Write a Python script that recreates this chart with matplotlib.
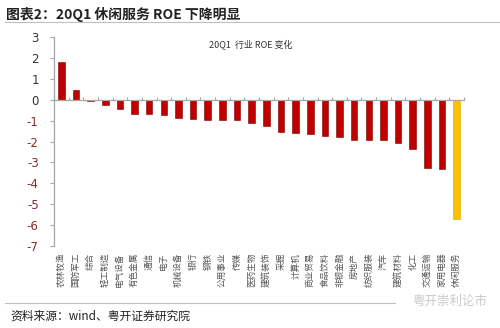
import matplotlib
matplotlib.use("Agg")
import matplotlib.pyplot as plt
import numpy as np

plt.rcParams['font.family'] = ['Noto Sans CJK SC', 'DejaVu Sans']

industries = ["农林牧渔", "国防军工", "综合", "轻工制造", "电气设备", "有色金属", "通信",
              "电子", "机械设备", "银行", "钢铁", "公用事业", "传媒", "医药生物",
              "建筑装饰", "采掘", "计算机", "商业贸易", "食品饮料", "非银金融", "房地产",
              "纺织服装", "汽车", "建筑材料", "化工", "交通运输", "家用电器", "休闲服务"]
roe_change = [1.82, 0.46, -0.05, -0.27, -0.43, -0.69, -0.67, -0.75, -0.88, -0.94,
              -0.96, -0.99, -0.98, -1.09, -1.28, -1.55, -1.57, -1.65, -1.74, -1.78,
              -1.92, -1.95, -1.95, -2.06, -2.38, -3.26, -3.30, -5.70]
highlight = "休闲服务"
yticks = [3, 2, 1, 0, -1, -2, -3, -4, -5, -6, -7]

RED, GOLD, GREY = "#C00000", "#FFC000", "#A6A6A6"

fig = plt.figure(figsize=(5, 3.28), dpi=100)
ax = fig.add_axes([0.108, 0.25, 0.82, 0.637])

x = np.arange(len(industries))
colors = [GOLD if n == highlight else RED for n in industries]
edges = ["#D9A400" if n == highlight else "#7A0000" for n in industries]
ax.bar(x, roe_change, width=0.45, color=colors, edgecolor=edges, linewidth=0.4, zorder=2)

ax.set_xlim(-0.5, len(industries) - 0.5)
ax.set_ylim(-7, 3)
ax.set_yticks(yticks)
ax.set_yticklabels([str(v) for v in yticks], fontsize=8.5, family="DejaVu Sans")
for lab, v in zip(ax.get_yticklabels(), yticks):
    lab.set_color("#8C2A2A" if v < 0 else "#333333")
ax.tick_params(axis="y", length=3, color=GREY, width=0.8, pad=8)

for s in ["top", "right"]:
    ax.spines[s].set_visible(False)
ax.spines["left"].set_color(GREY)
ax.spines["left"].set_linewidth(0.9)

# zero line with category-boundary ticks
ax.spines["bottom"].set_position(("data", 0))
ax.spines["bottom"].set_color(GREY)
ax.spines["bottom"].set_linewidth(0.9)
ax.set_xticks(x)
ax.set_xticklabels([])
ax.tick_params(axis="x", which="major", length=0)
ax.set_xticks(np.arange(len(industries) + 1) - 0.5, minor=True)
ax.tick_params(axis="x", which="minor", direction="in", length=2.5, color=GREY, width=0.8)

# rotated category labels at bottom of axes (text ends at the top)
sec = ax.secondary_xaxis("bottom")
sec.set_xticks(x)
sec.set_xticklabels(industries, fontsize=6.2, rotation=90, ha="center", va="top",
                    color="#555555")
sec.tick_params(length=0, pad=5)
sec.spines["bottom"].set_visible(False)

ax.text(0.48, 0.96, "20Q1  行业 ROE 变化", transform=ax.transAxes, fontsize=6.5,
        color="#333333", ha="center", va="center")

fig.text(0.012, 0.955, "图表2：20Q1 休闲服务 ROE 下降明显", fontsize=10, fontweight="bold",
         color="#222222", va="center")
fig.add_artist(plt.Line2D([0.01, 1.0], [0.932, 0.932], color="#BFBFBF", lw=0.8))
fig.add_artist(plt.Line2D([0.01, 0.79], [0.075, 0.075], color="#BFBFBF", lw=0.8))
fig.text(0.02, 0.035, "资料来源：wind、粤开证券研究院", fontsize=8.5, style="italic",
         color="#222222", va="center")
fig.text(0.975, 0.08, "粤开崇利论市", fontsize=9, color="#C8C8C8", ha="right", va="center")

fig.savefig("out.png", dpi=100)
